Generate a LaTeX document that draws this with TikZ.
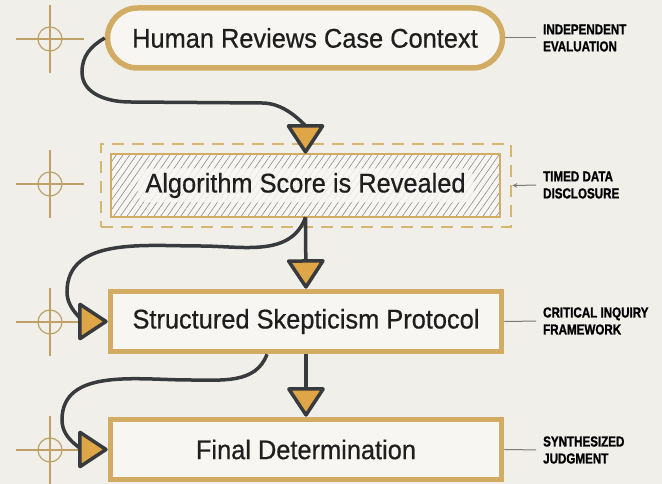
\documentclass[tikz,border=0pt]{standalone}
\usepackage{fontspec}
\setmainfont{Liberation Sans}
\newfontfamily\mainfont[FakeStretch=0.94,FakeBold=0.6]{Liberation Sans}
\newfontfamily\lblfont[FakeStretch=0.8,FakeBold=1.2]{Liberation Sans Bold}
\usetikzlibrary{arrows.meta,patterns.meta}
\definecolor{bg}{HTML}{F0EFEA}
\definecolor{boxfill}{HTML}{F7F6F2}
\definecolor{gold}{HTML}{D2AC63}
\definecolor{dashgold}{HTML}{D7B670}
\definecolor{cross}{HTML}{BFA066}
\definecolor{arrowfill}{HTML}{DFA648}
\definecolor{conncol}{HTML}{383B3D}
\definecolor{txt}{HTML}{1E1E1E}
\definecolor{lblline}{HTML}{7A7A78}
\begin{document}
\begin{tikzpicture}[x=1pt,y=1pt,
  mainbox/.style={draw=gold,line width=5.5pt,fill=boxfill,minimum width=391pt,minimum height=60pt,
    inner sep=0pt,font=\mainfont\fontsize{27}{30}\selectfont,text=txt},
  conn/.style={draw=conncol,line width=3.5pt,
    -{Triangle[width=40pt,length=31pt,fill=arrowfill,round]}},
  lbl/.style={anchor=west,align=left,inner sep=2pt,text=black,
    font=\lblfont\fontsize{14.5}{17}\selectfont},
  lblconn/.style={draw=lblline,line width=1pt},
  crosshair/.style={draw=cross,line width=1.2pt}]
\useasboundingbox[fill=bg] (0,0) rectangle (662,484);

% crosshairs
\foreach \cy in {445,300,162,34}{
  \draw[crosshair] (16,\cy) -- (84,\cy) (50,\cy-34) -- (50,\cy+34);
  \draw[crosshair] (50,\cy) circle (12pt);
}

% boxes
\node[mainbox,minimum width=395pt,rounded corners=30pt] (b1) at (305,446) {Human Reviews Case Context};
\node[draw=dashgold,line width=2.5pt,dash pattern=on 12pt off 8pt,minimum width=410pt,minimum height=83pt] (dash) at (306,298.5) {};
\node[draw=gold,line width=2.2pt,minimum width=389pt,minimum height=63pt,inner sep=0pt,
  preaction={fill=boxfill},
  pattern={Lines[angle=55,distance=5.5pt,line width=0.6pt]},pattern color=black!45,
  path picture={\fill[boxfill,opacity=0.85,rounded corners=10pt]
    ([xshift=-168pt,yshift=-17pt]path picture bounding box.center) rectangle
    ([xshift=168pt,yshift=17pt]path picture bounding box.center);},
  font=\mainfont\fontsize{27}{30}\selectfont,text=txt] (b2) at (305.5,298.5) {Algorithm Score is Revealed};
\node[mainbox] (b3) at (306,162.5) {Structured Skepticism Protocol};
\node[mainbox] (b4) at (306,34.5) {Final Determination};

% connectors
\draw[conn] (b1.west) to[out=210,in=90] (82,412) to[out=-90,in=180] (130,382) -- (262,381) to[out=0,in=90] (b2.north);
\draw[conn] (b2.south) -- (b3.north);
\draw[conn] (b2.south) to[out=-110,in=0] (200,238) to[out=180,in=90] (67,192) to[out=-90,in=180] (b3.west);
\draw[conn] (b3.south) -- (b4.north);
\draw[conn] ([xshift=-39pt]b3.south) to[out=-110,in=0] (190,104) to[out=180,in=90] (62,64) to[out=-90,in=180] (b4.west);

% labels
\node[lbl] (l1) at (541,446) {INDEPENDENT\\EVALUATION};
\node[lbl] (l2) at (541,299) {TIMED DATA\\DISCLOSURE};
\node[lbl] (l3) at (541,163) {CRITICAL INQUIRY\\FRAMEWORK};
\node[lbl] (l4) at (541,34) {SYNTHESIZED\\JUDGMENT};

\draw[lblconn,shorten >=5pt] (b1.east) -- (l1.west);
\draw[lblconn,shorten <=5pt,-{Stealth[length=5pt,width=4.5pt]}] (l2.west) -- (dash.east);
\draw[lblconn,shorten >=5pt] (b3.east) -- (l3.west);
\draw[lblconn,shorten >=5pt] (b4.east) -- (l4.west);
\end{tikzpicture}
\end{document}
